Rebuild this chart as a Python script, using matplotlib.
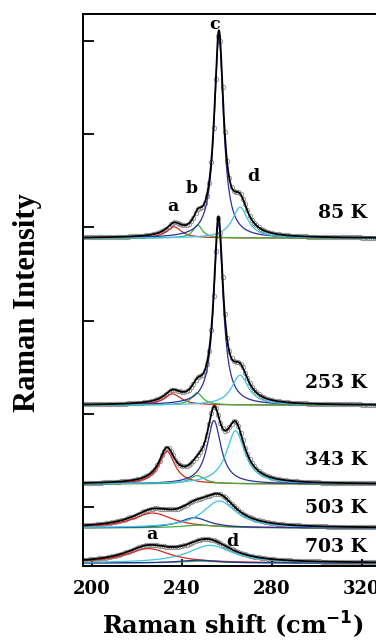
import numpy as np
import matplotlib
matplotlib.use("Agg")
import matplotlib.pyplot as plt

# ---- data ----
temps = ["85 K", "253 K", "343 K", "503 K", "703 K"]
offsets = [2.886, 1.094, 0.247, -0.225, -0.601]
# Lorentzian components a, b, c, d : centre (cm-1), height, FWHM
centers_a = [236.5, 235.8, 233.3, 227.0, 225.0]
centers_b = [247.0, 246.7, 246.7, 248.0, 248.0]
centers_c = [256.4, 256.2, 254.2, 245.5, 247.0]
centers_d = [265.8, 265.8, 263.8, 256.6, 252.5]
heights_a = [0.12, 0.12, 0.35, 0.16, 0.155]
heights_b = [0.14, 0.13, 0.09, 0.03, 0.02]
heights_c = [2.16, 1.95, 0.68, 0.11, 0.03]
heights_d = [0.33, 0.32, 0.57, 0.29, 0.19]
widths_a = [8.0, 9.0, 8.5, 22.0, 24.0]
widths_b = [5.0, 6.0, 8.0, 20.0, 20.0]
widths_c = [5.0, 5.0, 7.5, 16.0, 20.0]
widths_d = [8.5, 9.0, 10.0, 18.0, 24.0]

xticks = [200, 240, 280, 320]
yticks = [0, 1, 2, 3, 4, 5]

comp_colors = ["#d42a1e", "#3cb03c", "#2e2e9e", "#3cc4e6"]

def lor(x, x0, h, w):
    return h / (1.0 + (2.0 * (x - x0) / w) ** 2)

fig = plt.figure(figsize=(3.76, 6.43), dpi=100)
ax = fig.add_axes([83/376, 1 - 566/643, 1 - 83/376, (566 - 14)/643])
ax.set_xlim(196, 200 + (376 - 92) / 2.25)
ax.set_ylim(-0.633, 5.29)

x = np.linspace(196, 330, 800)
xd = np.arange(196, 330, 1.0)

for i in range(len(temps)):
    off = offsets[i]
    params = [(centers_a[i], heights_a[i], widths_a[i]),
              (centers_b[i], heights_b[i], widths_b[i]),
              (centers_c[i], heights_c[i], widths_c[i]),
              (centers_d[i], heights_d[i], widths_d[i])]
    total = sum(lor(x, *p) for p in params)
    totald = sum(lor(xd, *p) for p in params)
    ax.plot(xd, off + totald, 'o', ms=3.2, mfc='none', mec='#8a8a8a', mew=0.6, zorder=1)
    ax.plot(x, off + total, color='black', lw=1.3, zorder=3)
    for p, c in zip(params, comp_colors):
        ax.plot(x, off + lor(x, *p), color=c, lw=0.9, zorder=2)

serif = 'DejaVu Serif'
for i, t in enumerate(temps):
    ytxt = [3.15, 1.33, 0.50, -0.01, -0.43][i]
    ax.text(322.2, ytxt, t, ha='right', va='center', fontsize=13.5,
            fontweight='bold', family=serif)

lab_kw = dict(fontsize=12.5, fontweight='bold', family=serif, ha='center', va='center')
ax.text(236.0, 3.22, 'a', **lab_kw)
ax.text(244.4, 3.42, 'b', **lab_kw)
ax.text(254.6, 5.18, 'c', **lab_kw)
ax.text(271.6, 3.55, 'd', **lab_kw)
ax.text(226.7, -0.30, 'a', **lab_kw)
ax.text(262.2, -0.365, 'd', **lab_kw)

ax.set_xticks(xticks)
ax.set_yticks(yticks)
ax.set_yticklabels([])
ax.tick_params(axis='x', direction='in', length=5, width=1.3, pad=10, labelsize=13)
ax.tick_params(axis='y', direction='in', length=8, width=1.3)
for lbl in ax.get_xticklabels():
    lbl.set_fontweight('bold')
    lbl.set_family(serif)
for s in ['left', 'top', 'bottom']:
    ax.spines[s].set_linewidth(1.4)
ax.spines['right'].set_visible(False)

fig.text(0.074, 0.530, 'Raman Intensity', rotation=90, ha='center', va='center',
         fontsize=22, fontweight='bold', family='Liberation Serif')
fig.text(233/376, 0.004, 'Raman shift (cm$^{\\mathbf{-1}}$)', ha='center', va='bottom',
         fontsize=17.3, fontweight='bold', family=serif)

fig.savefig('out.png', dpi=100)
